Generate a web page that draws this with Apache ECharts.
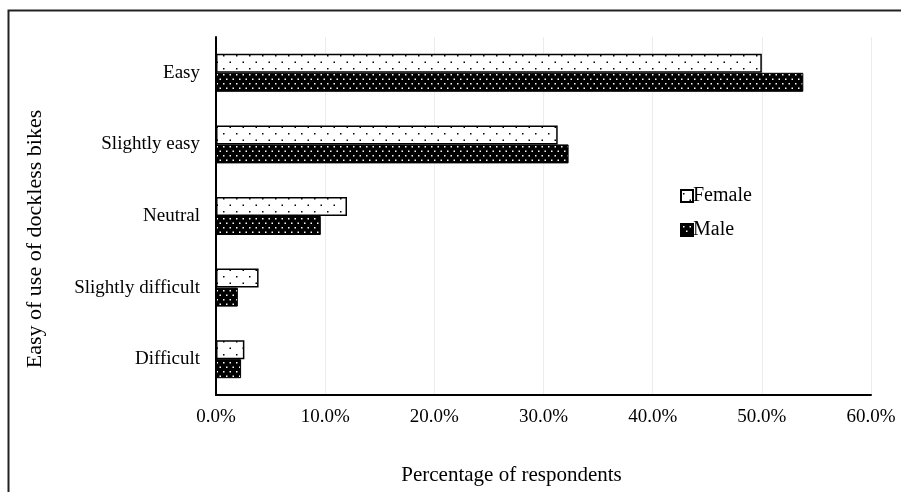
<!DOCTYPE html>
<html>
<head>
<meta charset="utf-8">
<script src="https://cdn.jsdelivr.net/npm/echarts@6/dist/echarts.min.js"></script>
<style>
  html, body { margin: 0; padding: 0; background: #fff; }
  #chart { width: 901px; height: 492px; }
</style>
</head>
<body>
<div id="chart"></div>
<script>
var categories = ['Easy', 'Slightly easy', 'Neutral', 'Slightly difficult', 'Difficult']
var female = [50.0, 31.3, 12.0, 3.9, 2.6]
var male = [53.8, 32.3, 9.6, 2.0, 2.3]
var xTicks = [0, 10, 20, 30, 40, 50, 60]

// dotted fills, like the Excel pattern fills
function dots (bg, fg, w, h, pts) {
  var c = document.createElement('canvas')
  c.width = w
  c.height = h
  var ctx = c.getContext('2d')
  ctx.fillStyle = bg
  ctx.fillRect(0, 0, w, h)
  ctx.fillStyle = fg
  pts.forEach(function (p) { ctx.fillRect(p[0], p[1], 1.5, 1.5) })
  return c
}
var femaleFill = { image: dots('#ffffff', '#000000', 13, 13, [[2, 3], [8.5, 9.5]]), repeat: 'repeat' }
var maleFill = { image: dots('#000000', '#ffffff', 13, 9, [[2, 2], [8.5, 2], [5, 6.5], [11.5, 6.5]]), repeat: 'repeat' }

var font = 'Liberation Serif'
var chart = echarts.init(document.getElementById('chart'))
chart.setOption({
  animation: false,
  textStyle: { fontFamily: font },
  graphic: [{
    type: 'polyline',
    shape: { points: [[8.5, 492], [8.5, 10.5], [901, 10.5]] },
    style: { stroke: '#222', lineWidth: 2, fill: null }
  }],
  legend: {
    orient: 'vertical',
    left: 675,
    top: 181,
    itemGap: 14,
    itemWidth: 12,
    itemHeight: 12,
    icon: 'rect',
    textStyle: { fontFamily: font, fontSize: 20, color: '#000', padding: [0, 0, 0, -5] },
    data: ['Female', 'Male']
  },
  grid: { left: 216, right: 30, top: 37, bottom: 97 },
  xAxis: {
    type: 'value',
    min: 0,
    max: 60,
    interval: 10,
    name: 'Percentage of respondents',
    nameLocation: 'middle',
    nameGap: 70,
    nameTextStyle: { fontFamily: font, fontSize: 21, color: '#000', padding: [0, 64, 0, 0] },
    axisLine: { show: true, lineStyle: { color: '#000', width: 2 } },
    axisTick: { show: false },
    axisLabel: {
      margin: 13,
      fontFamily: font,
      fontSize: 19,
      color: '#000',
      formatter: function (v) { return xTicks.indexOf(v) >= 0 ? v.toFixed(1) + '%' : '' }
    },
    splitLine: { show: true, lineStyle: { color: '#ececec', width: 1 } }
  },
  yAxis: {
    type: 'category',
    inverse: true,
    data: categories,
    name: 'Easy of use of dockless bikes',
    nameLocation: 'middle',
    nameGap: 170,
    nameTextStyle: { fontFamily: font, fontSize: 22, color: '#000', padding: [0, 46, 0, 0] },
    axisLine: { show: true, lineStyle: { color: '#000', width: 2 } },
    axisTick: { show: false },
    axisLabel: { margin: 16, fontFamily: font, fontSize: 19, color: '#000' }
  },
  series: [
    {
      name: 'Female',
      type: 'bar',
      data: female,
      barWidth: 19,
      barGap: '0%',
      itemStyle: { color: femaleFill, borderColor: '#000', borderWidth: 1.5 }
    },
    {
      name: 'Male',
      type: 'bar',
      data: male,
      barWidth: 19,
      barGap: '0%',
      itemStyle: { color: maleFill, borderColor: '#000', borderWidth: 1 }
    }
  ]
})
</script>
</body>
</html>
